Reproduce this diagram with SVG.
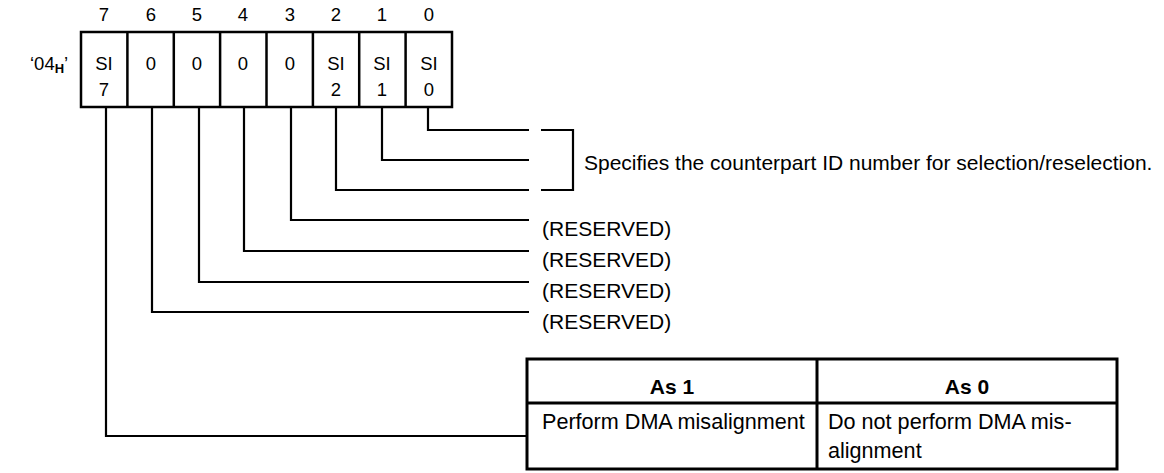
<svg xmlns="http://www.w3.org/2000/svg" width="1164" height="473" viewBox="0 0 1164 473">
<style>
text{font-family:"Liberation Sans",Arial,sans-serif;fill:#000}
.t{font-size:21px}
.tt{font-size:21.6px}
.c{font-size:18.5px;text-anchor:middle}
.b{font-size:21px;font-weight:bold;text-anchor:middle}
.ln{fill:none;stroke:#000;stroke-width:2.2}
.bx{fill:#fff;stroke:#000;stroke-width:2.5}
.tb{fill:none;stroke:#000;stroke-width:3}
</style>
<rect width="1164" height="473" fill="#fff"/>
<g id="register">
<text class="c" x="104" y="21">7</text>
<text class="c" x="151" y="21">6</text>
<text class="c" x="197" y="21">5</text>
<text class="c" x="243" y="21">4</text>
<text class="c" x="290" y="21">3</text>
<text class="c" x="336" y="21">2</text>
<text class="c" x="382" y="21">1</text>
<text class="c" x="429" y="21">0</text>
<text x="30" y="70" style="font-size:18.5px">‘04<tspan style="font-size:13px;font-weight:bold" dy="3">H</tspan><tspan dy="-3">’</tspan></text>
<rect class="bx" x="81" y="32" width="371" height="75"/>
<path class="ln" d="M127.4,32V107M173.8,32V107M220.1,32V107M266.5,32V107M312.9,32V107M359.2,32V107M405.6,32V107" style="stroke-width:2.5"/>
<text class="c" x="104" y="70">SI</text><text class="c" x="104" y="96">7</text>
<text class="c" x="151" y="70">0</text>
<text class="c" x="197" y="70">0</text>
<text class="c" x="243" y="70">0</text>
<text class="c" x="290" y="70">0</text>
<text class="c" x="336" y="70">SI</text><text class="c" x="336" y="96">2</text>
<text class="c" x="382" y="70">SI</text><text class="c" x="382" y="96">1</text>
<text class="c" x="429" y="70">SI</text><text class="c" x="429" y="96">0</text>
</g>
<g id="connectors">
<path class="ln" d="M428,107V130H529"/>
<path class="ln" d="M382,107V160H529"/>
<path class="ln" d="M336,107V190H529"/>
<path class="ln" d="M291,107V220H529"/>
<path class="ln" d="M244,107V251H529"/>
<path class="ln" d="M199,107V282H529"/>
<path class="ln" d="M152,107V312H529"/>
<path class="ln" d="M106,107V436H527"/>
<path class="ln" d="M541,130H573V190H541"/>
</g>
<g id="labels">
<text class="t" x="584" y="170">Specifies the counterpart ID number for selection/reselection.</text>
<text class="t" x="542" y="236">(RESERVED)</text>
<text class="t" x="542" y="267">(RESERVED)</text>
<text class="t" x="542" y="298">(RESERVED)</text>
<text class="t" x="542" y="329">(RESERVED)</text>
</g>
<g id="table">
<rect class="tb" x="527" y="359" width="590" height="110"/>
<path class="tb" d="M527,403H1117M817,359V469"/>
<text class="b" x="672" y="394">As 1</text>
<text class="b" x="967" y="394">As 0</text>
<text class="tt" x="542" y="429">Perform DMA misalignment</text>
<text class="tt" x="828" y="429">Do not perform DMA mis-</text>
<text class="tt" x="828" y="458">alignment</text>
</g>
</svg>
